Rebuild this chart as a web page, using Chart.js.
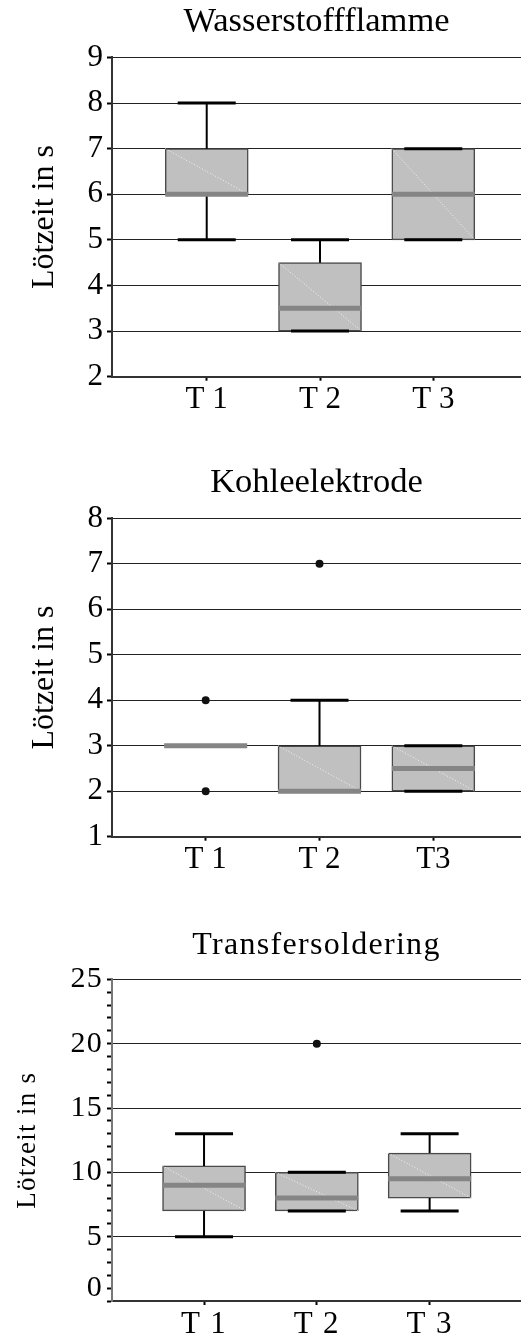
<!DOCTYPE html>
<html>
<head>
<meta charset="utf-8">
<script src="https://cdn.jsdelivr.net/npm/chart.js@4/dist/chart.umd.min.js"></script>
<style>
  html, body { margin: 0; padding: 0; background: #fff; }
  body { width: 521px; height: 1336px; position: relative; overflow: hidden; }
  canvas { position: absolute; left: 0; }
</style>
</head>
<body>
<canvas id="c1" width="521" height="420" style="top:0px"></canvas>
<canvas id="c2" width="521" height="420" style="top:460px"></canvas>
<canvas id="c3" width="521" height="416" style="top:920px"></canvas>
<script>
// Wasserstoffflamme
const H_LABELS = ["T 1", "T 2", "T 3"];
const H_Q1 = [6, 3, 5];
const H_Q3 = [7, 4.5, 7];
const H_MED = [6, 3.5, 6];
const H_LO = [5, 3, 5];
const H_HI = [8, 5, 7];
const H_OUT_X = [];
const H_OUT_Y = [];

// Kohleelektrode
const K_LABELS = ["T 1", "T 2", "T3"];
const K_Q1 = [3, 2, 2];
const K_Q3 = [3, 3, 3];
const K_MED = [3, 2, 2.5];
const K_LO = [null, 2, 2];
const K_HI = [null, 4, 3];
const K_OUT_X = [1, 1, 2];
const K_OUT_Y = [4, 2, 7];

// Transfersoldering
const T_LABELS = ["T 1", "T 2", "T 3"];
const T_Q1 = [7, 7, 8];
const T_Q3 = [10.5, 10, 11.5];
const T_MED = [9, 8, 9.5];
const T_LO = [5, 7, 7];
const T_HI = [13, 10, 13];
const T_OUT_X = [2];
const T_OUT_Y = [20];
const T_TICK_VALUES = [1, 5, 10, 15, 20, 25];
const T_TICK_LABELS = ["0", "5", "10", "15", "20", "25"];

const SERIF = "'Liberation Serif', 'Times New Roman', serif";
const BOX_INDEX = 4;
Chart.defaults.color = "#000";
Chart.defaults.font.family = SERIF;

const spacingPlugin = {
  id: "spacing",
  beforeDraw(chart, args, opts) {
    chart.ctx.letterSpacing = (opts.px || 0) + "px";
  },
};

// faint dotted diagonal across each box, like the original export
const diagonalPlugin = {
  id: "diagonal",
  afterDatasetDraw(chart, args) {
    if (args.index !== BOX_INDEX) return;
    const ctx = chart.ctx;
    ctx.save();
    ctx.strokeStyle = "rgba(255,255,255,0.8)";
    ctx.lineWidth = 1;
    ctx.setLineDash([1, 2]);
    args.meta.data.forEach((bar) => {
      const { x, y, base, width } = bar.getProps(["x", "y", "base", "width"]);
      if (Math.abs(base - y) < 2) return;
      ctx.beginPath();
      ctx.moveTo(x - width / 2, Math.min(y, base));
      ctx.lineTo(x + width / 2, Math.max(y, base));
      ctx.stroke();
    });
    ctx.restore();
  },
};

function whiskerPoints(lo, q1, q3, hi) {
  const pts = [];
  lo.forEach((v, i) => {
    const x = i + 1;
    if (v !== null) pts.push({ x, y: v }, { x, y: q1[i] }, { x, y: null });
    if (hi[i] !== null) pts.push({ x, y: q3[i] }, { x, y: hi[i] }, { x, y: null });
  });
  return pts;
}

function capPoints(lo, hi) {
  const pts = [];
  lo.forEach((v, i) => {
    if (v !== null) pts.push({ x: i + 1, y: v });
    if (hi[i] !== null) pts.push({ x: i + 1, y: hi[i] });
  });
  return pts;
}

function boxChart(id, d) {
  const ctx = document.getElementById(id).getContext("2d");
  return new Chart(ctx, {
    type: "bar",
    plugins: [spacingPlugin, diagonalPlugin],
    data: {
      datasets: [
        {
          type: "scatter",
          order: 0,
          data: d.outX.map((x, i) => ({ x, y: d.outY[i] })),
          pointStyle: "circle",
          pointRadius: 4,
          backgroundColor: "#111",
          borderColor: "#111",
          borderWidth: 0,
        },
        {
          type: "scatter",
          order: 1,
          data: d.med.map((y, i) => ({ x: i + 1, y })),
          pointStyle: "line",
          pointRadius: 41.5,
          borderColor: "#858585",
          borderWidth: 5,
        },
        {
          type: "scatter",
          order: 2,
          data: capPoints(d.lo, d.hi),
          pointStyle: "line",
          pointRadius: 29,
          borderColor: "#000",
          borderWidth: 3,
        },
        {
          type: "line",
          order: 3,
          data: whiskerPoints(d.lo, d.q1, d.q3, d.hi),
          borderColor: "#000",
          borderWidth: 2,
          pointRadius: 0,
          spanGaps: false,
          tension: 0,
        },
        {
          type: "bar",
          order: 4,
          data: d.q1.map((lo, i) => ({ x: i + 1, y: [lo, d.q3[i]] })),
          backgroundColor: "#c0c0c0",
          borderColor: "#4a4a4a",
          borderWidth: 1.5,
          borderSkipped: false,
          barThickness: 83,
        },
      ],
    },
    options: {
      responsive: false,
      animation: false,
      events: [],
      layout: { padding: 0, autoPadding: false },
      plugins: {
        legend: { display: false },
        tooltip: { enabled: false },
        spacing: { px: d.spacing || 0 },
        title: {
          display: true,
          text: d.title,
          fullSize: false,
          color: "#000",
          font: { family: SERIF, size: d.titleSize, weight: "normal" },
          padding: d.titlePad,
        },
      },
      scales: {
        x: {
          type: "linear",
          offset: false,
          min: d.xMin,
          max: d.xMax,
          afterBuildTicks: (axis) => {
            axis.ticks = d.labels.map((_, i) => ({ value: i + 1 }));
          },
          afterFit: (axis) => {
            axis.height = d.xHeight;
            axis.paddingLeft = 0;
            axis.paddingRight = 0;
          },
          ticks: {
            autoSkip: false,
            maxRotation: 0,
            padding: 1,
            font: { family: SERIF, size: 31 },
            callback: (v) => d.labels[v - 1],
          },
          grid: {
            offset: false,
            drawOnChartArea: false,
            drawTicks: true,
            tickLength: 4,
            tickColor: "#000",
            tickWidth: 2,
          },
          border: { color: "#333", width: 2 },
        },
        y: {
          type: "linear",
          min: d.yMin,
          max: d.yMax,
          afterFit: (axis) => {
            axis.width = 112;
            axis.paddingTop = 0;
            axis.paddingBottom = 0;
          },
          ticks: {
            stepSize: 1,
            autoSkip: false,
            padding: 4,
            font: { family: SERIF, size: d.tickSize },
            callback: d.tickLabel || ((v) => String(v)),
          },
          grid: {
            color: d.gridColor || "#222",
            lineWidth: 1,
            tickLength: 5,
            tickColor: "#000",
            tickWidth: 2,
          },
          border: { color: d.yBorder || "#333", width: 2 },
          title: {
            display: true,
            text: "Lötzeit in s",
            font: { family: SERIF, size: d.yTitleSize },
            padding: { top: d.yTitlePad, bottom: 0 },
          },
        },
      },
    },
  });
}

boxChart("c1", {
  title: "Wasserstoffflamme", titleSize: 34.5, titlePad: { top: 1, bottom: 15 },
  labels: H_LABELS, q1: H_Q1, q3: H_Q3, med: H_MED, lo: H_LO, hi: H_HI,
  outX: H_OUT_X, outY: H_OUT_Y, yMin: 2, yMax: 9, xMin: 0.164, xMax: 3.774,
  xHeight: 43.3, tickSize: 31, yTitleSize: 32, yTitlePad: 25,
});

boxChart("c2", {
  title: "Kohleelektrode", titleSize: 34.5, titlePad: { top: 2, bottom: 15 },
  labels: K_LABELS, q1: K_Q1, q3: K_Q3, med: K_MED, lo: K_LO, hi: K_HI,
  outX: K_OUT_X, outY: K_OUT_Y, yMin: 1, yMax: 8, xMin: 0.177, xMax: 3.77,
  xHeight: 43.3, tickSize: 31, yTitleSize: 32, yTitlePad: 25,
});

boxChart("c3", {
  title: "Transfersoldering", titleSize: 32, titlePad: { top: 6, bottom: 15 },
  labels: T_LABELS, q1: T_Q1, q3: T_Q3, med: T_MED, lo: T_LO, hi: T_HI,
  outX: T_OUT_X, outY: T_OUT_Y, yMin: 0, yMax: 25, xMin: 0.184, xMax: 3.81,
  xHeight: 35, tickSize: 30, yTitleSize: 27, yTitlePad: 12, spacing: 1.3,
  yBorder: "#777",
  tickLabel: (v) => {
    const k = T_TICK_VALUES.indexOf(v);
    return k >= 0 ? T_TICK_LABELS[k] : "";
  },
  gridColor: (c) => (c.tick && c.tick.value > 0 && c.tick.value % 5 === 0) ? "#222" : "rgba(0,0,0,0)",
});
</script>
</body>
</html>
